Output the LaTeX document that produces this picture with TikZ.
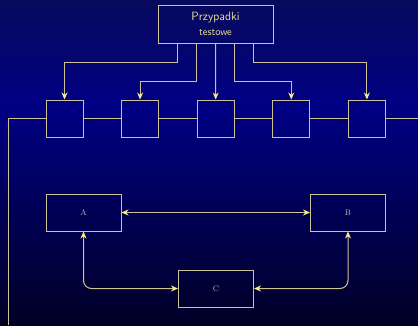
\documentclass[tikz,border=0pt]{standalone}
\usepackage{tikz}
\usetikzlibrary{arrows.meta,calc}
\definecolor{bgtop}{RGB}{8,10,92}
\definecolor{bgmid}{RGB}{0,0,132}
\definecolor{bgbot}{RGB}{0,0,38}
\definecolor{linecol}{RGB}{205,195,150}
\definecolor{tipcol}{RGB}{250,238,130}
\definecolor{txtcol}{RGB}{235,225,150}
\definecolor{lblcol}{RGB}{200,195,175}
\tikzset{
  box/.style={draw=linecol, line width=1pt, inner sep=0pt},
  sq/.style={box, minimum width=37pt, minimum height=37pt},
  wide/.style={box, minimum width=75pt, minimum height=37pt, font=\fontsize{8}{9}\selectfont, text=lblcol},
  conn/.style={draw=linecol, line width=1pt},
  arr/.style={conn, -{Stealth[length=7pt,width=6pt,color=tipcol]}},
  biarr/.style={conn, {Stealth[length=7pt,width=6pt,color=tipcol]}-{Stealth[length=7pt,width=6pt,color=tipcol]}}
}
\begin{document}
\begin{tikzpicture}[x=1pt,y=-1pt]
  % background
  \useasboundingbox (0,0) rectangle (418,325);
  \shade[top color=bgtop, bottom color=bgmid] (0,0) rectangle (418,105);
  \shade[top color=bgmid, bottom color=bgbot] (0,104.5) rectangle (418,325);

  % test cases
  \node[box, minimum width=115pt, minimum height=38pt, align=center, text=txtcol,
        font=\sffamily\fontsize{12}{14}\selectfont] (tc) at (215.5,24) {Przypadki\\[1pt]{\fontsize{10.5}{12}\selectfont testowe}};
  \foreach \i in {1,...,5}
    \node[sq] (s\i) at ({64.5+75.6*(\i-1)},118.5) {};

  % chain through the squares
  \coordinate (in) at (8,325);
  \coordinate (out) at (418,118.5);
  \draw[conn] (in) |- (s1.west);
  \foreach \i/\j in {1/2,2/3,3/4,4/5}
    \draw[conn] (s\i.east) -- (s\j.west);
  \draw[conn] (s5.east) -- (out);

  % feeds from the test cases
  \foreach \k/\d/\h in {1/-38/62,2/-19/81,4/19/81,5/38/62}
    \draw[arr] ($(tc.south)+(\d,0)$) -- ++(0,\h-43) -| (s\k.north);
  \draw[arr] (tc.south) -- (s3.north);

  % A, B, C
  \node[wide] (A) at (83.5,212.5) {A};
  \node[wide] (B) at (348,212.5) {B};
  \node[wide] (C) at (216,288.5) {C};
  \draw[biarr] (A) -- (B);
  \draw[biarr, rounded corners=8pt] (A.south) |- (C.west);
  \draw[biarr, rounded corners=8pt] (B.south) |- (C.east);
\end{tikzpicture}
\end{document}
